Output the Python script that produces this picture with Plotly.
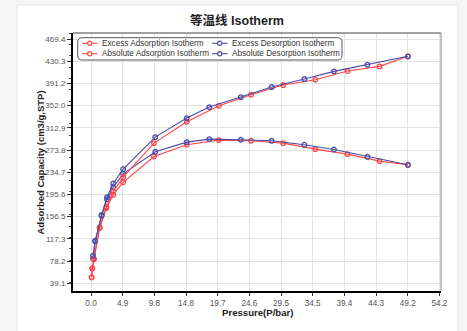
import plotly.graph_objects as go

# ---------------- data ----------------
ads_p = [0.1, 0.2, 0.45, 1.35, 2.4, 3.45, 5.0, 9.8, 14.9, 19.9, 24.9, 29.9, 34.9, 39.9, 44.9, 49.3]
exc_ads = [49.5, 65.3, 81.5, 136.5, 171.5, 194.8, 217.0, 262.5, 283.1, 291.3, 290.1, 286.0, 275.4, 266.6, 254.3, 247.8]
abs_ads = [49.7, 65.6, 82.0, 137.5, 174.0, 200.7, 226.0, 286.0, 323.6, 351.9, 371.3, 388.3, 397.7, 413.0, 421.2, 438.9]

des_p = [49.3, 43.0, 37.8, 33.2, 28.1, 23.3, 18.4, 14.9, 10.0, 5.0, 3.45, 2.5, 1.65, 0.65, 0.32]
exc_des = [247.8, 261.9, 274.8, 283.1, 290.1, 291.9, 293.1, 287.8, 270.7, 231.9, 208.2, 187.2, 157.9, 113.0, 82.5]
abs_des = [438.9, 424.2, 412.4, 398.9, 384.8, 367.1, 349.5, 330.1, 296.6, 240.2, 214.9, 190.8, 159.6, 114.0, 87.8]

x_ticks = ["0.0", "4.9", "9.8", "14.8", "19.7", "24.6", "29.5", "34.5", "39.4", "44.3", "49.2", "54.2"]
y_ticks = ["39.1", "78.2", "117.3", "156.5", "195.6", "234.7", "273.8", "312.9", "352.0", "391.2", "430.3", "469.4"]
x_step = 54.2 / 11
y_step = 469.4 / 12

series_names = ["Excess Adsorption Isotherm", "Excess Desorption Isotherm",
                "Absolute Adsorption Isotherm", "Absolute Desorption Isotherm"]

RED = "#FF4545"
BLUE = "#4C4CA8"

# ---------------- layout geometry ----------------
WIDTH, HEIGHT = 467, 331
ML, MR, MT, MB = 73, 26, 33, 40
PW, PH = WIDTH - ML - MR, HEIGHT - MT - MB


def px(xp):
    return (xp - ML) / PW


def py(yp):
    return (HEIGHT - MB - yp) / PH


FONT = "Liberation Sans, Arial, Noto Sans CJK SC, sans-serif"

fig = go.Figure()

traces = [
    (ads_p, exc_ads, RED),
    (des_p, exc_des, BLUE),
    (ads_p, abs_ads, RED),
    (des_p, abs_des, BLUE),
]
for (xs, ys, col), name in zip(traces, series_names):
    fig.add_trace(go.Scatter(
        x=xs, y=ys, name=name, mode="lines+markers",
        line=dict(color=col, width=1.1),
        marker=dict(symbol="circle-open", size=4.6, color=col, line=dict(width=1.3, color=col)),
        showlegend=False,
    ))

shapes = []
annotations = []

# card background
shapes.append(dict(type="rect", xref="paper", yref="paper", layer="below",
                   x0=px(17), x1=px(458), y0=py(HEIGHT + 5), y1=py(5),
                   fillcolor="white", line=dict(color="#e6e6e6", width=1)))

# top and right frame lines
shapes.append(dict(type="line", xref="paper", yref="paper", x0=0, x1=1, y0=1, y1=1,
                   line=dict(color="#444444", width=1.2)))
shapes.append(dict(type="line", xref="paper", yref="paper", x0=1, x1=1, y0=0, y1=1,
                   line=dict(color="#888888", width=1)))

# custom legend box (rounded)
bx0, bx1, by0, by1, r = 77.7, 342.0, 37.7, 60.0, 4.5
path = (f"M {px(bx0 + r)},{py(by0)} L {px(bx1 - r)},{py(by0)} "
        f"Q {px(bx1)},{py(by0)} {px(bx1)},{py(by0 + r)} "
        f"L {px(bx1)},{py(by1 - r)} Q {px(bx1)},{py(by1)} {px(bx1 - r)},{py(by1)} "
        f"L {px(bx0 + r)},{py(by1)} Q {px(bx0)},{py(by1)} {px(bx0)},{py(by1 - r)} "
        f"L {px(bx0)},{py(by0 + r)} Q {px(bx0)},{py(by0)} {px(bx0 + r)},{py(by0)} Z")
shapes.append(dict(type="path", xref="paper", yref="paper", path=path,
                   fillcolor="white", line=dict(color="#555555", width=1)))

legend_pos = [
    (82, 43.3), (212, 43.3), (82, 53.7), (212, 53.7)
]
for (lx, ly), name, (_, _, col) in zip(legend_pos, series_names, traces):
    shapes.append(dict(type="line", xref="paper", yref="paper",
                       x0=px(lx), x1=px(lx + 15.5), y0=py(ly), y1=py(ly),
                       line=dict(color=col, width=1.1)))
    cr = 2.1
    cx = lx + 7.75
    shapes.append(dict(type="circle", xref="paper", yref="paper",
                       x0=px(cx - cr), x1=px(cx + cr), y0=py(ly + cr), y1=py(ly - cr),
                       fillcolor="white", line=dict(color=col, width=1.2)))
    annotations.append(dict(text=name, xref="paper", yref="paper",
                            x=px(lx + 17.5), y=py(ly), xanchor="left", yanchor="middle",
                            showarrow=False, font=dict(family=FONT, size=8.2, color="#333333")))

# axis titles
annotations.append(dict(text="<b>Pressure(P/bar)</b>", xref="paper", yref="paper",
                        x=px(257), y=py(312.5), xanchor="center", yanchor="middle",
                        showarrow=False, font=dict(family=FONT, size=9.6, color="#222222")))
annotations.append(dict(text="<b>Adsorbed Capacity (cm3/g,STP)</b>", xref="paper", yref="paper",
                        x=px(39.5), y=py(163), xanchor="center", yanchor="middle", textangle=-90,
                        showarrow=False, font=dict(family=FONT, size=9.5, color="#222222")))

fig.update_layout(
    width=WIDTH, height=HEIGHT,
    margin=dict(l=ML, r=MR, t=MT, b=MB, pad=0),
    paper_bgcolor="#f6f6f6",
    plot_bgcolor="white",
    title=dict(text="<b>等温线 Isotherm</b>", x=237 / WIDTH, xref="container", xanchor="center",
               y=1 - 20.7 / HEIGHT, yref="container", yanchor="middle",
               font=dict(family="Liberation Sans, Noto Sans CJK SC, sans-serif", size=12.5, color="#222222")),
    shapes=shapes,
    annotations=annotations,
    showlegend=False,
)

fig.update_xaxes(
    range=[-2.8, 54.45],
    tickvals=[i * x_step for i in range(len(x_ticks))], ticktext=x_ticks,
    showgrid=True, gridcolor="#e3e3e3", gridwidth=1, zeroline=False,
    showline=True, linecolor="black", linewidth=2,
    ticks="outside", ticklen=3, tickcolor="#333333", tickwidth=1,
    tickfont=dict(family=FONT, size=8.2, color="#555555"),
)
fig.update_yaxes(
    range=[25.5, 480],
    tickvals=[(i + 1) * y_step for i in range(len(y_ticks))], ticktext=y_ticks,
    showgrid=True, gridcolor="#e3e3e3", gridwidth=1, zeroline=False,
    showline=True, linecolor="black", linewidth=2,
    ticks="outside", ticklen=4, tickcolor="#333333", tickwidth=1,
    minor=dict(ticks="outside", ticklen=2, nticks=5, tickcolor="#555555", showgrid=False),
    tickfont=dict(family=FONT, size=8.0, color="#555555"),
)

fig.write_html("out.html",
               config={"displayModeBar": False},
               post_script="document.body.style.margin='0';document.body.style.overflow='hidden';")
